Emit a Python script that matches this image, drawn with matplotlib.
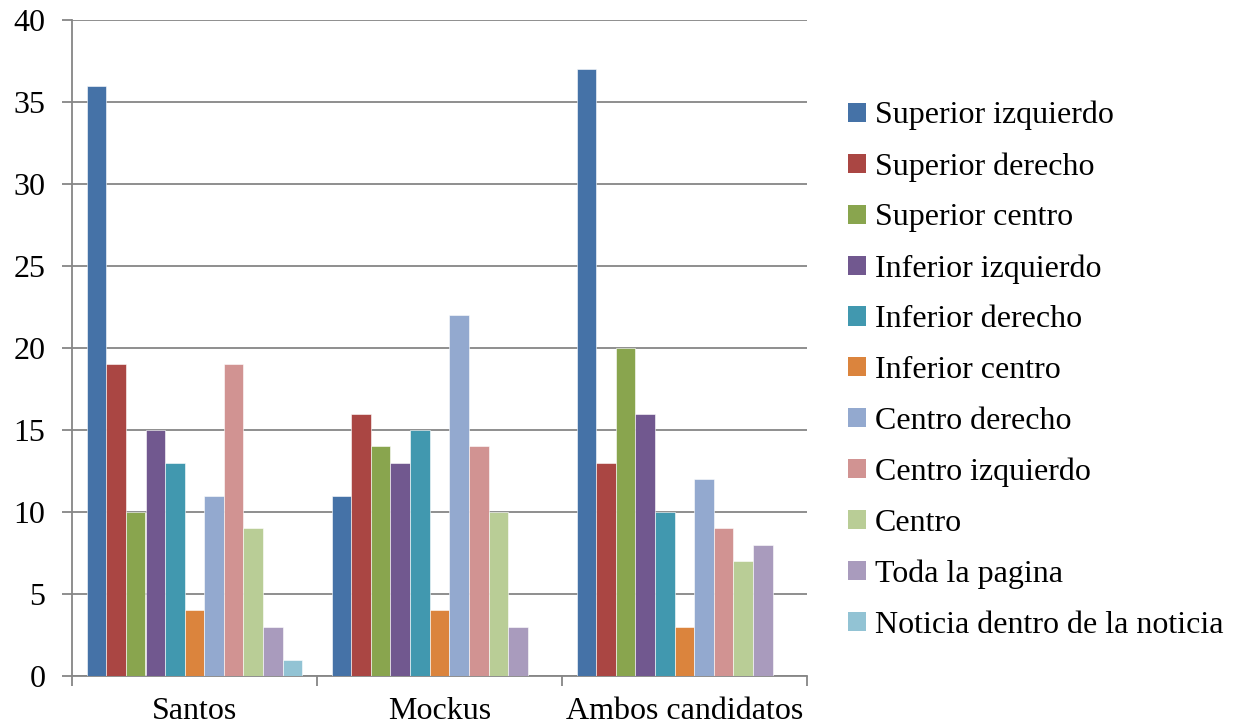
import matplotlib
matplotlib.use("Agg")
import matplotlib.pyplot as plt
import numpy as np
from matplotlib.patches import Patch

categories = ["Santos", "Mockus", "Ambos candidatos"]
series_names = ["Superior izquierdo", "Superior derecho", "Superior centro",
                "Inferior izquierdo", "Inferior derecho", "Inferior centro",
                "Centro derecho", "Centro izquierdo", "Centro", "Toda la pagina",
                "Noticia dentro de la noticia"]
santos = [36, 19, 10, 15, 13, 4, 11, 19, 9, 3, 1]
mockus = [11, 16, 14, 13, 15, 4, 22, 14, 10, 3, 0]
ambos = [37, 13, 20, 16, 10, 3, 12, 9, 7, 8, 0]
yticks = [0, 5, 10, 15, 20, 25, 30, 35, 40]

colors = ["#4572A7", "#AA4643", "#89A54E", "#71588F", "#4198AF", "#DB843D",
          "#93A9CF", "#D19392", "#B9CD96", "#A99BBD", "#92C3D4"]

plt.rcParams['font.family'] = ['Liberation Serif', 'DejaVu Serif']

W, H = 1235, 727
FS = 23
fig = plt.figure(figsize=(W/100, H/100), dpi=100)
ax = fig.add_axes([72/W, 1-676/H, (807-72)/W, (676-20)/H])

data = np.array([santos, mockus, ambos])
x = np.arange(len(categories))
n = len(series_names)
bw = 0.08
for i in range(n):
    ax.bar(x - 0.44 + bw*(i+0.5), data[:, i], width=bw, color=colors[i],
           edgecolor='white', linewidth=0.4, zorder=3, label=series_names[i])

ax.set_xlim(-0.5, 2.5)
ax.set_ylim(0, 40)
ax.set_yticks(yticks)
ax.set_yticklabels([str(v) for v in yticks], fontsize=FS)
ax.yaxis.grid(True, color='#868686', linewidth=1.3, zorder=0)
ax.set_axisbelow(True)

ax.set_xticks(x)
ax.set_xticklabels(categories, fontsize=FS)
ax.tick_params(axis='x', length=0, pad=15)
ax.set_xticks([-0.5, 0.5, 1.5, 2.5], minor=True)
ax.tick_params(axis='x', which='minor', length=7, width=1.3, color='#868686', direction='out')
ax.tick_params(axis='y', length=7, width=1.3, color='#868686', direction='out', pad=12)

for s in ['top', 'right']:
    ax.spines[s].set_visible(False)
for s in ['left', 'bottom']:
    ax.spines[s].set_color('#868686')
    ax.spines[s].set_linewidth(1.3)

handles = [Patch(facecolor=c, edgecolor='none') for c in colors]
leg = fig.legend(handles, series_names, loc='upper left',
                 bbox_to_anchor=(848/W, 1-101/H), frameon=False, fontsize=FS,
                 handlelength=0.55, handleheight=0.55, handletextpad=0.3,
                 labelspacing=0.68, borderaxespad=0, borderpad=0)

fig.savefig("out.png", dpi=100)
